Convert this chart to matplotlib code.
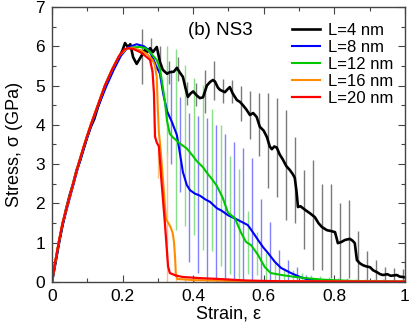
import numpy as np
import matplotlib
matplotlib.use("Agg")
import matplotlib.pyplot as plt
from matplotlib.ticker import MultipleLocator

plt.rcParams['font.family'] = ['Liberation Sans', 'DejaVu Sans']

# ---------------- data ----------------
labels = ["L=4 nm", "L=8 nm", "L=12 nm", "L=16 nm", "L=20 nm"]
colors = ["#000000", "#0000ff", "#00c800", "#ff8c00", "#ff0000"]
bar_colors = ["#7a7a7a", "#8080ff", "#88e088", "#ffc080", "#ff9090"]

x4 = [0, 0.01, 0.02, 0.03, 0.04, 0.05, 0.06, 0.07, 0.08, 0.09, 0.1, 0.11, 0.12, 0.13, 0.14,
      0.15, 0.16, 0.17, 0.18, 0.19, 0.2, 0.207, 0.215, 0.222, 0.23, 0.24, 0.25, 0.263, 0.27,
      0.278, 0.286, 0.297, 0.306, 0.314, 0.326, 0.334, 0.345, 0.354, 0.363, 0.371, 0.378,
      0.385, 0.393, 0.4, 0.41, 0.419, 0.428, 0.439, 0.448, 0.456, 0.462, 0.47, 0.476, 0.49,
      0.497, 0.504, 0.512, 0.524, 0.533, 0.541, 0.55, 0.561, 0.57, 0.58, 0.589, 0.6, 0.609,
      0.617, 0.623, 0.63, 0.637, 0.645, 0.654, 0.664, 0.674, 0.682, 0.688, 0.693, 0.697,
      0.704, 0.711, 0.72, 0.731, 0.745, 0.755, 0.765, 0.779, 0.79, 0.802, 0.807, 0.81, 0.82,
      0.83, 0.844, 0.852, 0.858, 0.862, 0.864, 0.872, 0.881, 0.89, 0.901, 0.91, 0.921, 0.93,
      0.938, 0.95, 0.96, 0.977, 0.985, 0.994, 1.0]
y4 = [0, 0.5, 1.0, 1.45, 1.85, 2.2, 2.5, 2.85, 3.1, 3.4, 3.7, 3.95, 4.15, 4.45, 4.7,
      4.95, 5.15, 5.35, 5.55, 5.7, 5.9, 6.08, 5.98, 6.05, 5.72, 5.55, 5.7, 5.9, 5.85,
      5.95, 5.85, 5.98, 5.6, 5.4, 5.3, 5.34, 5.35, 5.45, 5.32, 5.22, 4.95,
      4.71, 4.8, 4.85, 4.75, 4.68, 4.7, 5.0, 5.09, 5.14, 5.1, 4.95, 4.89, 4.83,
      4.9, 4.96, 4.8, 4.63, 4.58, 4.5, 4.4, 4.25, 4.3, 4.2, 3.95, 3.85, 3.69,
      3.45, 3.38, 3.45, 3.42, 3.25, 3.12, 2.95, 2.85, 2.75, 2.65, 2.3, 1.91,
      1.93, 1.88, 1.82, 1.75, 1.65, 1.5, 1.4, 1.32, 1.3, 1.27, 1.1, 0.99, 1.02,
      1.07, 1.1, 1.05, 0.99, 0.7, 0.56, 0.48, 0.43, 0.4, 0.38, 0.3, 0.25, 0.2,
      0.18, 0.2, 0.16, 0.18, 0.14, 0.13, 0.12]

x8 = [0, 0.01, 0.02, 0.03, 0.045, 0.06, 0.075, 0.09, 0.11, 0.13, 0.155, 0.175, 0.195, 0.215,
      0.24, 0.26, 0.275, 0.285, 0.295, 0.306, 0.315, 0.326, 0.34, 0.354, 0.363, 0.371, 0.382,
      0.391, 0.405, 0.419, 0.435, 0.448, 0.467, 0.48, 0.499, 0.527, 0.555, 0.569, 0.584,
      0.598, 0.612, 0.632, 0.649, 0.677, 0.703, 0.72, 0.75, 0.8, 1.0]
y8 = [0, 0.5, 1.0, 1.45, 1.95, 2.45, 2.95, 3.4, 3.95, 4.45, 5.0, 5.4, 5.75, 5.97,
      6.05, 6.0, 5.9, 5.72, 5.5, 5.3, 4.8, 4.35, 4.07, 3.74, 3.25, 2.8, 2.47,
      2.34, 2.25, 2.2, 2.1, 2.04, 1.88, 1.82, 1.7, 1.58, 1.45, 1.27, 1.07,
      0.89, 0.74, 0.51, 0.36, 0.23, 0.13, 0.08, 0.04, 0.02, 0.01]

x12 = [0, 0.01, 0.02, 0.03, 0.045, 0.06, 0.075, 0.09, 0.11, 0.13, 0.15, 0.17, 0.19, 0.21,
       0.23, 0.25, 0.265, 0.278, 0.29, 0.297, 0.305, 0.31, 0.315, 0.32, 0.326, 0.334, 0.343,
       0.363, 0.382, 0.4, 0.41, 0.428, 0.439, 0.455, 0.467, 0.484, 0.499, 0.518, 0.535, 0.55,
       0.564, 0.584, 0.603, 0.62, 0.65, 0.69, 0.72, 0.77, 0.85, 1.0]
y12 = [0, 0.55, 1.05, 1.5, 2.0, 2.5, 3.0, 3.45, 4.0, 4.5, 5.0, 5.4, 5.75, 5.93,
       5.97, 5.98, 5.95, 5.85, 5.72, 5.65, 5.45, 5.2, 4.9, 4.6, 4.1, 3.77, 3.68,
       3.52, 3.4, 3.2, 3.08, 2.92, 2.78, 2.6, 2.45, 2.14, 1.76, 1.63, 1.27, 1.02,
       0.94, 0.69, 0.38, 0.23, 0.18, 0.13, 0.1, 0.06, 0.03, 0.01]

x16 = [0, 0.01, 0.02, 0.03, 0.045, 0.06, 0.075, 0.09, 0.11, 0.13, 0.15, 0.17, 0.19, 0.21,
       0.225, 0.25, 0.27, 0.285, 0.292, 0.297, 0.3, 0.303, 0.306, 0.312, 0.318, 0.323, 0.33,
       0.336, 0.342, 0.346, 0.349, 0.351, 0.355, 0.4, 0.5, 0.7, 1.0]
y16 = [0, 0.55, 1.05, 1.5, 2.0, 2.5, 3.0, 3.45, 4.0, 4.5, 5.0, 5.4, 5.75, 5.93,
       5.96, 5.9, 5.8, 5.65, 5.5, 5.2, 4.4, 3.8, 3.55, 2.9, 2.2, 1.6, 1.5,
       1.4, 1.25, 1.0, 0.6, 0.2, 0.08, 0.05, 0.03, 0.02, 0.01]

x20 = [0, 0.01, 0.02, 0.03, 0.045, 0.06, 0.075, 0.09, 0.11, 0.13, 0.15, 0.17, 0.19, 0.205,
       0.215, 0.23, 0.25, 0.265, 0.278, 0.285, 0.289, 0.292, 0.297, 0.303, 0.31, 0.32, 0.329,
       0.334, 0.35, 0.37, 0.42, 0.47, 0.55, 0.65, 1.0]
y20 = [0, 0.55, 1.05, 1.5, 2.0, 2.5, 3.0, 3.45, 4.0, 4.5, 5.0, 5.4, 5.75, 5.92,
       5.95, 5.93, 5.85, 5.75, 5.65, 5.35, 4.8, 3.7, 3.55, 3.45, 2.6, 1.5, 0.4,
       0.23, 0.17, 0.13, 0.1, 0.08, 0.04, 0.02, 0.01]

# error bars: positions, centres, half-lengths
bx4 = [0.255, 0.2805, 0.306, 0.3315, 0.357, 0.3825, 0.408, 0.4335, 0.459, 0.4845, 0.51,
       0.5355, 0.561, 0.5865, 0.612, 0.6375, 0.663, 0.6885, 0.714, 0.7395, 0.765, 0.7905,
       0.816, 0.8415, 0.867, 0.8925, 0.918, 0.9435, 0.969, 0.9945]
by4 = [5.75, 5.92, 5.6, 5.33, 5.42, 4.8, 4.77, 4.85, 5.12, 4.86, 4.85, 4.55, 4.25, 4.0,
       3.6, 3.42, 2.97, 2.6, 1.85, 1.7, 1.4, 1.3, 1.0, 1.1, 0.5, 0.4, 0.27, 0.18, 0.17, 0.13]
be4 = [0.7, 0.3, 0.4, 0.3, 0.3, 0.3, 0.3, 0.55, 0.5, 0.3, 0.3, 0.45, 0.6, 0.8, 1.2, 1.25,
       1.4, 1.1, 1.0, 1.4, 1.1, 1.2, 1.0, 1.0, 0.8, 0.4, 0.3, 0.2, 0.2, 0.2]

bx8 = [0.337, 0.3625, 0.388, 0.4135, 0.439, 0.4645, 0.49, 0.5155, 0.541, 0.5665, 0.592,
       0.6175, 0.643, 0.6685, 0.694, 0.7195, 0.745]
by8 = [4.2, 3.5, 2.4, 2.22, 2.08, 1.9, 1.76, 1.62, 1.5, 1.3, 0.97, 0.68, 0.42, 0.27, 0.16,
       0.08, 0.04]
be8 = [1.2, 1.2, 1.9, 2.0, 2.1, 2.1, 2.0, 1.95, 1.9, 1.85, 1.15, 0.85, 0.4, 0.28, 0.22,
       0.1, 0.06]

bx12 = [0.326, 0.3515, 0.377, 0.4025, 0.428, 0.4535, 0.479, 0.5045, 0.53, 0.5555, 0.581,
        0.6065, 0.632, 0.6575, 0.683, 0.7085, 0.734, 0.7595, 0.785, 0.8105, 0.836, 0.8615,
        0.887, 0.9125, 0.938, 0.9635, 0.989]
by12 = [4.6, 3.62, 3.47, 3.2, 2.92, 2.6, 2.2, 1.7, 1.37, 1.0, 0.72, 0.35, 0.2, 0.17, 0.14,
        0.1, 0.08, 0.06, 0.05, 0.04, 0.03, 0.03, 0.02, 0.02, 0.02, 0.01, 0.01]
be12 = [1.4, 2.3, 2.05, 2.0, 2.1, 1.8, 1.8, 1.5, 1.5, 0.8, 0.55, 0.4, 0.3, 0.2, 0.16,
        0.12, 0.1, 0.1, 0.08, 0.07, 0.07, 0.06, 0.06, 0.05, 0.05, 0.05, 0.05]

bx16 = [0.301, 0.3265, 0.352, 0.3775, 0.403]
by16 = [3.0, 1.55, 0.1, 0.05, 0.04]
be16 = [0.35, 1.75, 0.08, 0.05, 0.04]

series = [(x4, y4, bx4, by4, be4), (x8, y8, bx8, by8, be8), (x12, y12, bx12, by12, be12),
          (x16, y16, bx16, by16, be16), (x20, y20, None, None, None)]

# ---------------- figure ----------------
fig = plt.figure(figsize=(4.09, 3.28), dpi=100)
ax = fig.add_axes([0.127, 0.140, 0.863, 0.839])

for (x, y, bx, by, be), c in zip(series, bar_colors):
    if bx is not None:
        ax.errorbar(bx, by, yerr=be, fmt='none', ecolor=c, elinewidth=1.0, capsize=0, zorder=1)

for (x, y, bx, by, be), c, lab, lw in zip(series, colors, labels, [1.9, 1.5, 1.5, 1.5, 1.6]):
    ax.plot(x, y, color=c, lw=lw, label=lab, zorder=2)

ax.set_xlim(0, 1)
ax.set_ylim(0, 7)
ax.xaxis.set_major_locator(MultipleLocator(0.2))
ax.xaxis.set_minor_locator(MultipleLocator(0.1))
ax.yaxis.set_major_locator(MultipleLocator(1))
ax.yaxis.set_minor_locator(MultipleLocator(0.5))
ax.set_xticks([0, 0.2, 0.4, 0.6, 0.8, 1.0])
ax.set_xticklabels(["0", "0.2", "0.4", "0.6", "0.8", "1"])
ax.tick_params(which='both', direction='in', top=True, right=True, labelsize=12.5,
               color='#444444', width=0.8, pad=5)
ax.tick_params(which='major', length=5)
ax.tick_params(which='minor', length=3)
for s in ax.spines.values():
    s.set_color('#444444')
    s.set_linewidth(1.0)

ax.set_xlabel("Strain, ε", fontsize=13, labelpad=1)
ax.set_ylabel("Stress, σ (GPa)", fontsize=13, labelpad=9)

ax.text(0.385, 6.39, "(b) NS3", fontsize=13.5, ha='left', va='center')

leg = ax.legend(loc='upper right', frameon=False, fontsize=12, handlelength=1.7,
                handletextpad=0.45, labelspacing=0.12, borderaxespad=0.3,
                bbox_to_anchor=(1.0, 0.985))

fig.savefig("out.png", dpi=100)
